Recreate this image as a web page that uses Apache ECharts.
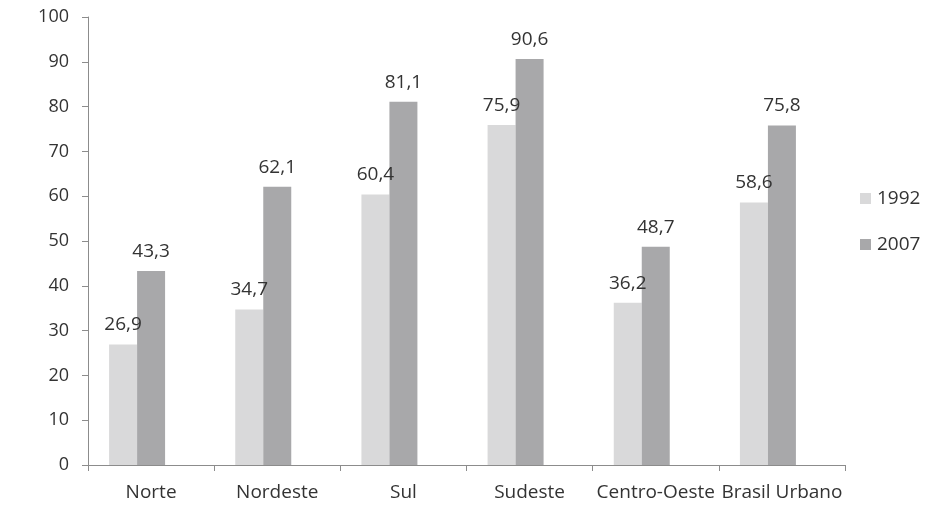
<!DOCTYPE html>
<html><head><meta charset="utf-8">
<script src="https://cdn.jsdelivr.net/npm/echarts@6/dist/echarts.min.js"></script>
<style>html,body{margin:0;padding:0;background:#fff}#c{width:930px;height:506px}</style>
</head><body><div id="c"></div>
<script>
var categories = ['Norte', 'Nordeste', 'Sul', 'Sudeste', 'Centro-Oeste', 'Brasil Urbano'];
var values1992 = [26.9, 34.7, 60.4, 75.9, 36.2, 58.6];
var values2007 = [43.3, 62.1, 81.1, 90.6, 48.7, 75.8];
var emptySeries = [null, null, null, null, null, null];
var yTicks = [0, 10, 20, 30, 40, 50, 60, 70, 80, 90, 100];

var font = '"Open Sans", "Noto Sans", sans-serif';
var txt = '#333333';
var lbl = {show: true, position: 'top', distance: 10, color: txt, fontFamily: font, fontSize: 19,
  formatter: function(p){ return String(p.value).replace('.', ','); }};

var chart = echarts.init(document.getElementById('c'));
chart.setOption({
  animation: false,
  grid: {left: 88, right: 85, top: 17, bottom: 41, containLabel: false},
  legend: {
    data: ['1992', '2007'], orient: 'vertical', left: 855, top: 184, itemGap: 27,
    itemWidth: 11, itemHeight: 11, icon: 'rect',
    textStyle: {color: txt, fontFamily: font, fontSize: 19, padding: [0,0,0,1]}
  },
  xAxis: {
    type: 'category', data: categories,
    axisLine: {lineStyle: {color: '#8c8c8c', width: 1}},
    axisTick: {show: true, length: 6, inside: false, alignWithLabel: false, lineStyle: {color: '#8c8c8c'}},
    axisLabel: {color: txt, fontFamily: font, fontSize: 19, margin: 18, interval: 0}
  },
  yAxis: {
    type: 'value', min: 0, max: 100, interval: 10,
    axisLine: {show: true, lineStyle: {color: '#8c8c8c', width: 1}},
    axisTick: {show: true, length: 6, lineStyle: {color: '#8c8c8c'}},
    splitLine: {show: false},
    axisLabel: {color: txt, fontFamily: font, fontSize: 18, margin: 19,
      formatter: function(v){ return yTicks.indexOf(v) >= 0 ? String(v) : ''; }}
  },
  series: [
    {name: '1992', type: 'bar', data: values1992, barWidth: 28, barGap: '0%',
      itemStyle: {color: '#d9d9da'}, label: lbl},
    {name: '2007', type: 'bar', data: values2007, barWidth: 28, barGap: '0%',
      itemStyle: {color: '#a8a8aa'}, label: lbl},
    {name: 'pad', type: 'bar', data: emptySeries, barWidth: 28, barGap: '0%',
      itemStyle: {color: 'transparent'}}
  ]
});
</script></body></html>
